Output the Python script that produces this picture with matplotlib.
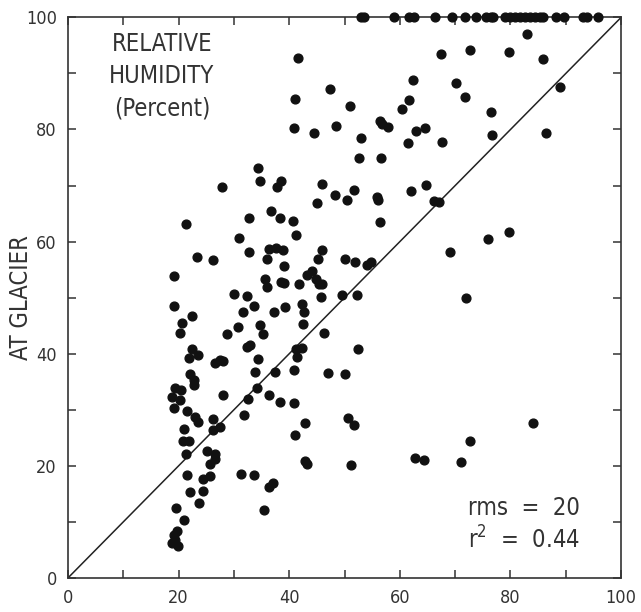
import numpy as np
import matplotlib
matplotlib.use("Agg")
import matplotlib.pyplot as plt
from matplotlib.ticker import MultipleLocator, FuncFormatter

# valley station humidity (x) vs glacier humidity (y), percent
# readings that saturated at 100 % on the glacier
sat_x = [52.9, 53.5, 59.0, 61.7, 62.6, 66.4, 69.4, 71.8, 73.8, 75.5, 76.4, 76.9,
         79.0, 79.9, 80.8, 81.7, 82.6, 83.5, 84.4, 85.3, 85.9, 88.2, 89.7, 93.1,
         93.8, 95.8]
sat_y = [100.0] * len(sat_x)

hum_x = [82.9, 67.5, 72.6, 79.7, 85.8, 62.3, 70.2, 71.8, 89.0, 61.7, 60.4, 50.9,
         76.5, 56.5, 56.8, 57.8, 64.6, 62.9, 76.7, 86.4, 52.9, 61.4, 67.6, 52.6,
         56.6, 51.7, 50.5, 62.0, 64.7, 55.8, 56.1, 66.2, 67.1, 56.5, 75.9, 79.7,
         69.0, 50.0, 51.9, 54.1, 54.7, 49.5, 52.2, 72.0, 47.4, 48.4,
         41.5, 41.0, 40.8, 44.4, 34.3, 34.8, 27.9, 37.8, 38.6, 46.0, 48.2, 45.0,
         21.3, 32.7, 36.7, 38.3, 40.6, 41.3, 30.9, 23.4, 26.3, 32.8, 35.9, 36.3,
         37.6, 38.8, 39.1, 46.0, 45.2, 19.2, 35.6, 36.0, 38.5, 39.1, 41.7, 43.2,
         44.2, 44.8, 45.4, 46.0, 30.0, 32.3, 45.8,
         19.2, 22.5, 20.7, 31.7, 33.7, 37.3, 39.2, 42.4, 42.7, 42.5, 34.7, 30.7,
         20.3, 28.7, 35.2, 46.2, 22.5, 23.6, 21.9, 32.4, 33.0, 26.6, 27.4, 28.0,
         34.4, 33.8, 41.2, 42.4, 41.4, 37.4, 40.9, 47.0, 22.1, 22.7, 22.8, 34.1,
         28.1, 32.5, 36.4, 38.3, 40.9, 19.3, 20.4, 18.9, 20.3, 19.2, 21.6, 23.0,
         23.6, 31.8, 26.2, 26.3, 27.5, 42.9, 41.0, 21.0, 20.8, 21.9, 21.3, 25.2,
         26.6, 26.6, 25.7, 42.9, 43.3, 21.5, 24.5, 25.6, 31.2, 33.6, 37.1, 36.4,
         22.1, 24.4, 23.7, 19.5, 20.9, 35.4, 19.7, 19.2, 18.9, 19.9, 19.3,
         52.4, 50.1, 50.7, 51.8, 51.2, 62.8, 64.3, 71.1, 72.6, 84.0]
hum_y = [97.1, 93.5, 94.1, 93.8, 92.5, 88.9, 88.3, 85.8, 87.5, 85.2, 83.7, 84.2,
         83.2, 81.6, 80.9, 80.5, 80.3, 79.7, 79.0, 79.4, 78.4, 77.6, 77.7, 75.0,
         75.0, 69.2, 67.4, 69.1, 70.1, 68.0, 67.4, 67.3, 67.0, 63.5, 60.5, 61.7,
         58.2, 56.9, 56.4, 55.9, 56.4, 50.4, 50.4, 50.0, 87.2, 80.6,
         92.8, 85.4, 80.3, 79.3, 73.1, 70.9, 69.8, 69.8, 70.8, 70.2, 68.4, 66.9,
         63.1, 64.3, 65.5, 64.3, 63.6, 61.1, 60.6, 57.2, 56.7, 58.1, 56.9, 58.6,
         58.9, 58.5, 55.7, 58.5, 56.9, 53.8, 53.4, 51.9, 52.8, 52.6, 52.4, 54.0,
         54.8, 53.4, 52.4, 52.4, 50.7, 50.3, 50.1,
         48.5, 46.7, 45.4, 47.5, 48.5, 47.4, 48.4, 48.8, 47.5, 45.3, 45.2, 44.7,
         43.7, 43.6, 43.6, 43.7, 40.8, 39.8, 39.3, 41.2, 41.5, 38.3, 38.9, 38.7,
         39.0, 36.8, 40.8, 41.1, 39.4, 36.8, 37.1, 36.6, 36.4, 35.3, 34.5, 33.8,
         32.6, 32.0, 32.6, 31.4, 31.2, 33.8, 33.5, 32.2, 31.7, 30.4, 29.8, 28.8,
         27.9, 29.0, 28.3, 26.4, 26.9, 27.7, 25.5, 26.6, 24.5, 24.4, 22.2, 22.7,
         22.2, 21.3, 20.4, 20.9, 20.4, 18.4, 17.6, 18.2, 18.5, 18.4, 17.0, 16.3,
         15.3, 15.6, 13.3, 12.5, 10.3, 12.2, 8.4, 7.6, 6.2, 5.7, 6.8,
         40.8, 36.4, 28.5, 27.2, 20.2, 21.4, 21.0, 20.7, 24.4, 27.6]

rms = 20
r2 = 0.44

ink = "#333333"
plt.rcParams["font.family"] = ["DejaVu Sans"]
plt.rcParams["font.stretch"] = "condensed"

fig = plt.figure(figsize=(6.41, 6.12), dpi=100)
ax = fig.add_axes([0.106, 0.0556, 0.863, 0.916])

ax.plot([0, 100], [0, 100], color="#222222", lw=1.1, zorder=1)
ax.scatter(hum_x, hum_y, s=40, color="#111111", zorder=3, clip_on=False)
ax.scatter(sat_x, sat_y, s=40, color="#111111", zorder=3, clip_on=False)

ax.set_xlim(0, 100)
ax.set_ylim(0, 100)
for sp in ax.spines.values():
    sp.set_linewidth(1.2)
    sp.set_color(ink)

ax.xaxis.set_major_locator(MultipleLocator(10))
ax.yaxis.set_major_locator(MultipleLocator(10))
fmt = FuncFormatter(lambda v, p: f"{int(round(v))}" if int(round(v)) % 20 == 0 else "")
ax.xaxis.set_major_formatter(fmt)
ax.yaxis.set_major_formatter(fmt)
ax.tick_params(direction="in", length=6, width=1.1, color=ink,
               top=True, right=True, labelsize=13, labelcolor=ink, pad=8)

ax.set_ylabel("AT GLACIER", fontsize=17, color=ink)
ax.yaxis.set_label_coords(-0.064, 0.5)

for yy, line in zip([95.2, 89.5, 83.8], ["RELATIVE", "HUMIDITY", "(Percent)"]):
    ax.text(17.0, yy, line, ha="center", va="center", fontsize=17, color=ink)
ax.text(72.3, 12.5, f"rms  =  {rms}", fontsize=17, color=ink, va="center")
ax.text(72.3, 6.8, f"r$^2$  =  {r2}", fontsize=17, color=ink, va="center")

fig.savefig("out.png", dpi=100)
